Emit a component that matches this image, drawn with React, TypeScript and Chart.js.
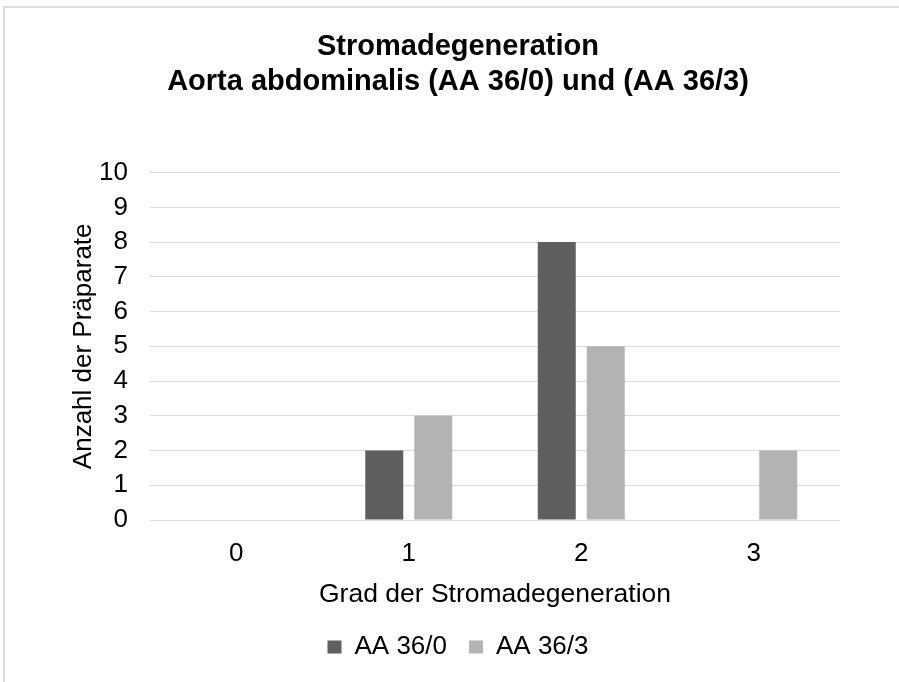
import React, { useEffect, useRef } from "react";
import { Chart, registerables } from "chart.js";

Chart.register(...registerables);

// Grades of stromal degeneration on the x axis
const categories = ["0", "1", "2", "3"];
// Number of specimens per grade for each group
const seriesNames = ["AA 36/0", "AA 36/3"];
const countsAA360 = [0, 2, 8, 0];
const countsAA363 = [0, 3, 5, 2];
const seriesColors = ["#5f5f5f", "#b3b3b3"];

const titleLines = ["Stromadegeneration", "Aorta abdominalis (AA 36/0) und (AA 36/3)"];
const xAxisTitle = "Grad der Stromadegeneration";
const yAxisTitle = "Anzahl der Präparate";
const yMin = 0;
const yMax = 10;
const yStep = 1;

const FONT = "'Liberation Sans', Arial, Helvetica, sans-serif";
const CANVAS_W = 917;
const CANVAS_H = 682;
const PAD_LEFT = 76;
const PLOT_LEFT = 150;
const PLOT_RIGHT = 840;

export default function App() {
  const canvasRef = useRef<HTMLCanvasElement | null>(null);

  useEffect(() => {
    const canvas = canvasRef.current;
    if (!canvas) return;
    const chart = new Chart(canvas, {
      type: "bar",
      data: {
        labels: categories,
        datasets: [
          {
            label: seriesNames[0],
            data: countsAA360,
            backgroundColor: seriesColors[0],
            borderWidth: 0,
          },
          {
            label: seriesNames[1],
            data: countsAA363,
            backgroundColor: seriesColors[1],
            borderWidth: 0,
          },
        ],
      },
      options: {
        responsive: false,
        animation: false,
        devicePixelRatio: 1,
        datasets: {
          bar: {
            categoryPercentage: 0.568,
            barPercentage: 0.776,
          },
        },
        layout: {
          padding: { left: PAD_LEFT, right: CANVAS_W - PLOT_RIGHT, top: 0, bottom: 12 },
        },
        plugins: {
          title: {
            display: true,
            text: titleLines,
            color: "#000000",
            font: { family: FONT, size: 29, weight: "bold", lineHeight: 1.2 },
            padding: { top: 30, bottom: 73 },
          },
          legend: {
            display: true,
            position: "bottom",
            labels: {
              color: "#000000",
              font: { family: FONT, size: 26 },
              boxWidth: 14,
              boxHeight: 13,
              padding: 22,
            },
          },
          tooltip: { enabled: false },
        },
        scales: {
          x: {
            grid: { display: false, drawTicks: false },
            border: { display: false },
            ticks: {
              color: "#000000",
              font: { family: FONT, size: 26 },
              padding: 18,
            },
            title: {
              display: true,
              text: xAxisTitle,
              color: "#000000",
              font: { family: FONT, size: 26.5 },
              padding: { top: 0, bottom: 1 },
            },
            afterFit: (scale: any) => {
              scale.height = 92;
            },
          },
          y: {
            min: yMin,
            max: yMax,
            grid: { color: "#d9d9d9", lineWidth: 1, drawTicks: false },
            border: { display: false },
            ticks: {
              stepSize: yStep,
              autoSkip: false,
              color: "#000000",
              font: { family: FONT, size: 26 },
              padding: 22,
            },
            title: {
              display: true,
              text: yAxisTitle,
              color: "#000000",
              font: { family: FONT, size: 26 },
              padding: { top: -8, bottom: 0 },
            },
            afterFit: (scale: any) => {
              scale.width = PLOT_LEFT - PAD_LEFT;
            },
          },
        },
      },
    });
    return () => chart.destroy();
  }, []);

  return (
    <div
      style={{
        position: "fixed",
        left: 0,
        top: 0,
        width: 899,
        height: 682,
        overflow: "hidden",
        background: "#ffffff",
      }}
    >
      <div
        style={{
          position: "absolute",
          left: 3,
          top: 6,
          width: 1000,
          height: 1000,
          borderTop: "2px solid #dcdcdc",
          borderLeft: "2px solid #dcdcdc",
        }}
      />
      <canvas
        ref={canvasRef}
        width={CANVAS_W}
        height={CANVAS_H}
        style={{ position: "absolute", left: 0, top: 0, width: CANVAS_W, height: CANVAS_H }}
      />
    </div>
  );
}
